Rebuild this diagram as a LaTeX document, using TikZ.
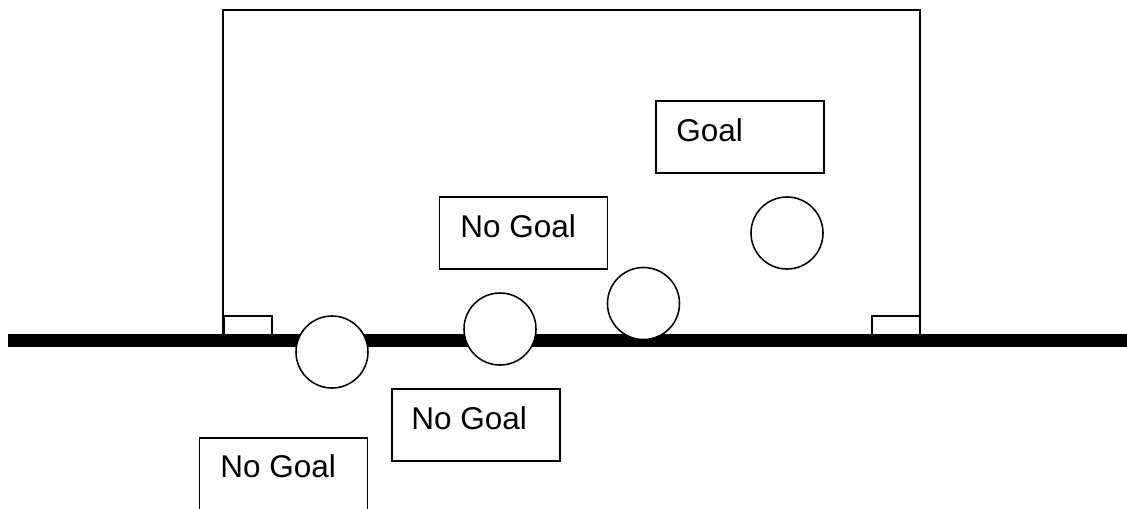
\documentclass[tikz,border=0pt]{standalone}
\usepackage{fontspec}
\setmainfont{Liberation Sans}
\begin{document}
\begin{tikzpicture}[x=0.025cm, y=-0.025cm,
  frame/.style={line width=1.4pt},
  ground/.style={line width=9.3pt},
  post/.style={draw, fill=white, line width=1.3pt},
  ball/.style={draw, fill=white, circle, line width=1.1pt, minimum size=1.8cm, inner sep=0pt},
  verdict/.style={draw, line width=1.1pt, minimum width=4.2cm, minimum height=1.8cm, inner sep=0pt},
  caption/.style={anchor=base west, inner sep=0pt, font=\fontsize{22.4}{26}\selectfont}]
  \useasboundingbox (0,0) rectangle (1127,508);
  \clip (0,0) rectangle (1127,508);

  % goal frame
  \coordinate (fl) at (223,340);
  \coordinate (fr) at (920,340);
  \draw[frame] (fl) -- (223,10) -- (920,10) -- (fr);

  % posts
  \node[post, minimum width=1.2cm, minimum height=0.6cm, inner sep=0pt] (lpost) at (248,328) {};
  \node[post, minimum width=1.2cm, minimum height=0.6cm, inner sep=0pt] (rpost) at (896,328) {};

  % goal line
  \coordinate (gl) at (8,340.5);
  \coordinate (gr) at (1127,340.5);
  \draw[ground] (gl) -- (gr);

  % balls
  \node[ball] (b1) at (332,352) {};
  \node[ball] (b2) at (500,329) {};
  \node[ball] (b3) at (643.5,303.5) {};
  \node[ball] (b4) at (787,233) {};

  % verdict boxes
  \node[verdict] (goal) at (740,137) {};
  \node[caption] at (676,141) {Goal};

  \node[verdict] (ng1) at (523.5,233) {};
  \node[caption] at (460,237) {No Goal};

  \node[verdict] (ng2) at (476,425) {};
  \node[caption] at (411,429) {No Goal};

  \node[verdict] (ng3) at (283.5,474) {};
  \node[caption] at (220,477) {No Goal};
\end{tikzpicture}
\end{document}
